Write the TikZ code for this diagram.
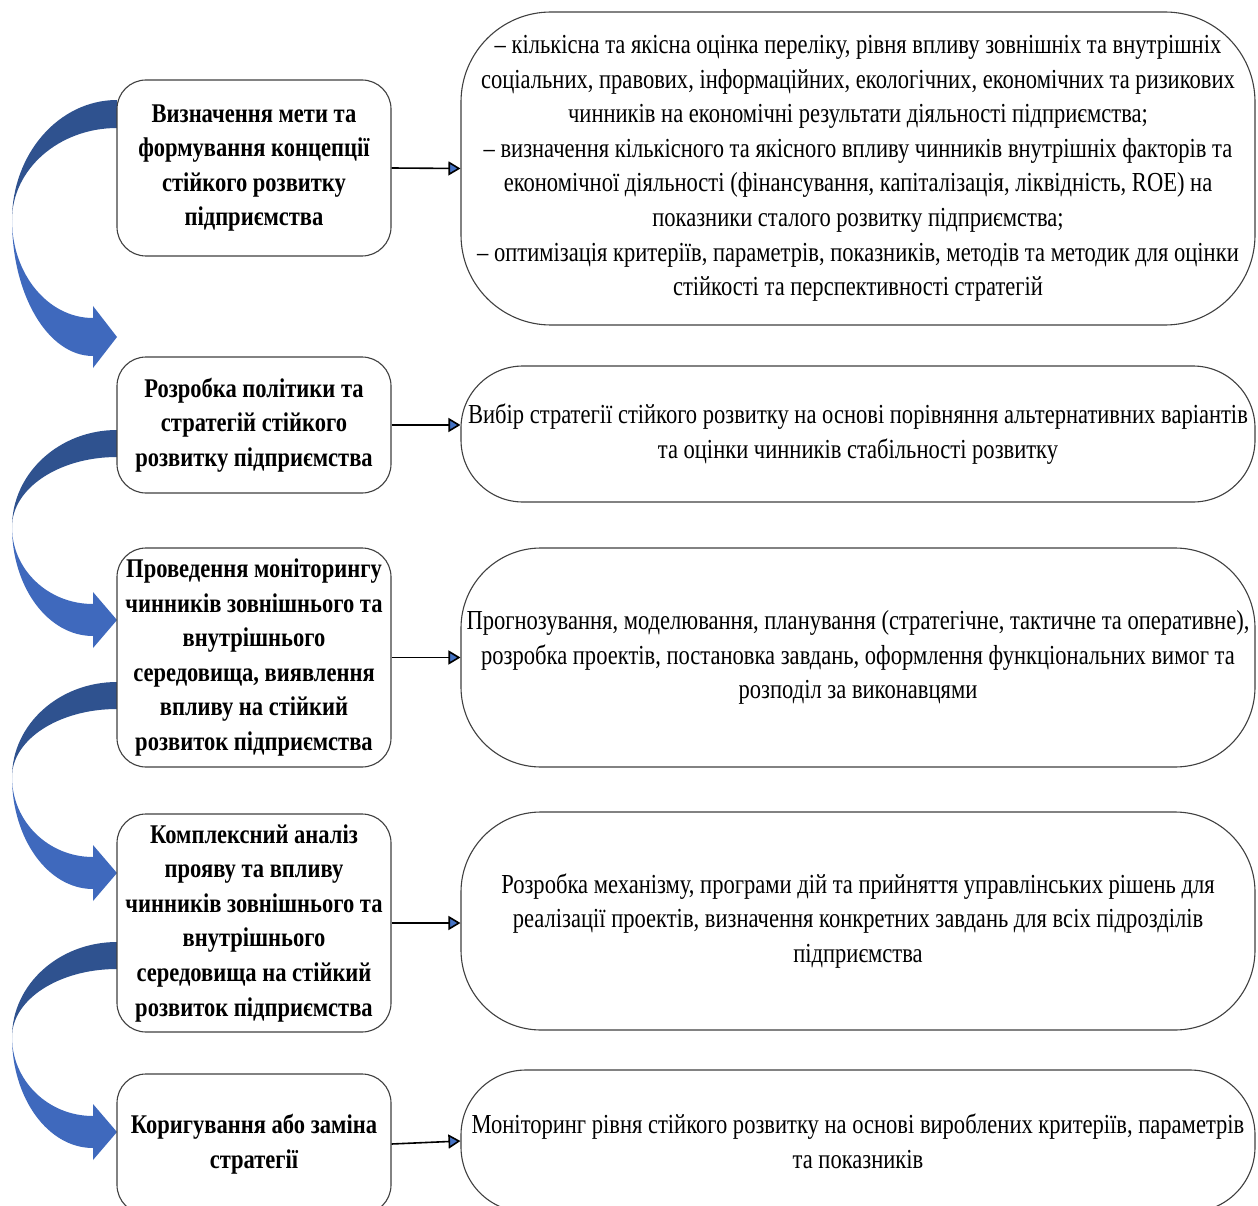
\documentclass[tikz,border=0pt]{standalone}
\usepackage{fontspec}
\setmainfont{Liberation Serif}
\newfontfamily\regcond[FakeStretch=0.82]{Liberation Serif}
\newfontfamily\boldcond[FakeStretch=0.835]{Liberation Serif}
\usetikzlibrary{arrows.meta}
\definecolor{boxgray}{HTML}{404040}
\definecolor{darkband}{HTML}{2F528F}
\definecolor{lightband}{HTML}{3F69BD}
\definecolor{arrowblue}{HTML}{4472C4}
\newcommand\bendarrow[6]{% #1 tail top, #2 tail width, #3 leftmost y, #4 head centre y, #5 head half, #6 band half
  \pgfmathsetmacro\arwA{#3-0.552*(#3-#1)}%
  \pgfmathsetmacro\arwB{#3-0.552*(#3-#1-#2)}%
  \pgfmathsetmacro\arwC{#3+0.552*(#4+#6-#3)}%
  \pgfmathsetmacro\arwD{#3+0.552*(#4-#6-#3)}%
  \fill[darkband] (117,#1) .. controls (59,#1) and (12,\arwA) .. (12,#3)
     .. controls (12,\arwB) and (59,{#1+#2}) .. (117,{#1+#2}) -- cycle;
  \fill[lightband] (12,#3) .. controls (12,\arwC) and (48,{#4+#6}) .. (93,{#4+#6})
     -- (93,{#4+#5}) -- (117,#4) -- (93,{#4-#5}) -- (93,{#4-#6})
     .. controls (48,{#4-#6}) and (12,\arwD) .. (12,#3) -- cycle;
}
\begin{document}
\begin{tikzpicture}[x=1pt,y=-1pt,
  leftbox/.style={draw=boxgray, fill=white, line width=1.1pt, rounded corners=29pt,
    minimum width=274pt, align=center, inner sep=0pt,
    font=\boldcond\bfseries\fontsize{27}{34.6}\selectfont},
  rightbox/.style={draw=boxgray, fill=white, line width=1.1pt,
    minimum width=794pt, align=center, inner sep=0pt,
    font=\regcond\fontsize{27.5}{34.6}\selectfont},
  link/.style={line width=1.6pt, draw=black, -{Triangle[length=12pt,width=14pt,fill=arrowblue]}}]
\clip (0,0) rectangle (1258,1206);
\path[use as bounding box] (0,0) rectangle (1258,1206);
\fill[white] (0,0) rectangle (1258,1206);

\bendarrow{100}{28}{220}{337}{31}{19}
\bendarrow{430}{27}{527}{620}{28}{16}
\bendarrow{682}{27}{777}{873}{28}{16}
\bendarrow{942}{27}{1037}{1132}{28}{16}

\node[leftbox, minimum height=176pt] (b1) at (254,168) {Визначення мети та\\формування концепції\\стійкого розвитку\\підприємства};
\node[leftbox, minimum height=136pt] (b2) at (254,425) {Розробка політики та\\стратегій стійкого\\розвитку підприємства};
\node[leftbox, minimum height=219pt] (b3) at (254,657.5) {Проведення моніторингу\\чинників зовнішнього та\\внутрішнього\\середовища, виявлення\\впливу на стійкий\\розвиток підприємства};
\node[leftbox, minimum height=218pt] (b4) at (254,923) {Комплексний аналіз\\прояву та впливу\\чинників зовнішнього та\\внутрішнього\\середовища на стійкий\\розвиток підприємства};
\node[leftbox, minimum height=140pt] (b5) at (254,1144) {Коригування або заміна\\стратегії};

\node[rightbox, rounded corners=90pt, minimum height=313pt] (r1) at (858,168.5) {– кількісна та якісна оцінка переліку, рівня впливу зовнішніх та внутрішніх\\соціальних, правових, інформаційних, екологічних, економічних та ризикових\\чинників на економічні результати діяльності підприємства;\\– визначення кількісного та якісного впливу чинників внутрішніх факторів та\\економічної діяльності (фінансування, капіталізація, ліквідність, ROE) на\\показники сталого розвитку підприємства;\\– оптимізація критеріїв, параметрів, показників, методів та методик для оцінки\\стійкості та перспективності стратегій};
\node[rightbox, rounded corners=62pt, minimum height=136pt] (r2) at (858,434) {Вибір стратегії стійкого розвитку на основі порівняння альтернативних варіантів\\та оцінки чинників стабільності розвитку};
\node[rightbox, rounded corners=80pt, minimum height=219pt] (r3) at (858,657.5) {Прогнозування, моделювання, планування (стратегічне, тактичне та оперативне),\\розробка проектів, постановка завдань, оформлення функціональних вимог та\\розподіл за виконавцями};
\node[rightbox, rounded corners=80pt, minimum height=218pt] (r4) at (858,921) {Розробка механізму, програми дій та прийняття управлінських рішень для\\реалізації проектів, визначення конкретних завдань для всіх підрозділів\\підприємства};
\node[rightbox, rounded corners=65pt, minimum height=142pt] (r5) at (858,1141) {Моніторинг рівня стійкого розвитку на основі вироблених критеріїв, параметрів\\та показників};

\draw[link] (b1.east) -- (r1.west);
\draw[link] (b2.east) -- (b2.east -| r2.west);
\draw[link] (b3.east) -- (r3.west);
\draw[link] (b4.east) -- (b4.east -| r4.west);
\draw[link] (b5.east) -- (r5.west);
\end{tikzpicture}
\end{document}
